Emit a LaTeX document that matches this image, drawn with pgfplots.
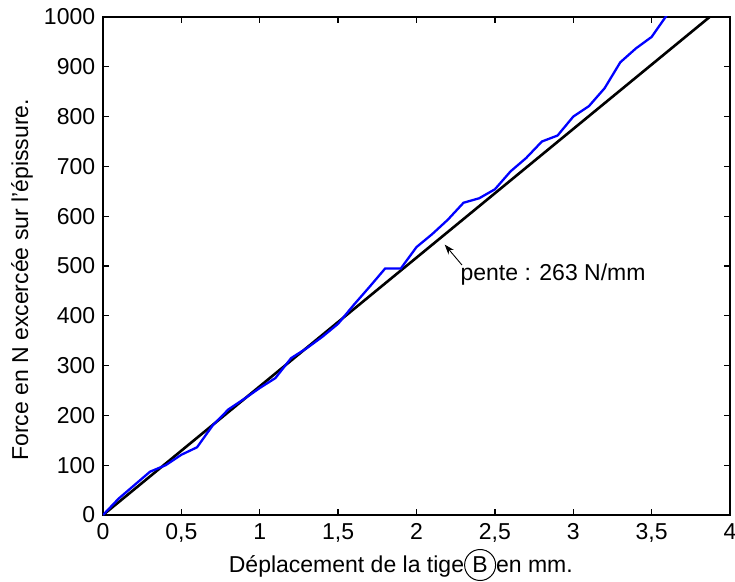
\documentclass[border=0pt]{standalone}
\usepackage{fontspec}
\setmainfont{Liberation Sans}
\usepackage{pgfplots}
\pgfplotsset{compat=1.18}
\usetikzlibrary{arrows.meta}
\begin{document}
\fontsize{23bp}{27bp}\selectfont
\begin{tikzpicture}[font=\fontsize{23bp}{27bp}\selectfont]
\begin{axis}[
  scale only axis, width=627bp, height=498bp,
  xmin=0, xmax=4, ymin=0, ymax=1000,
  xtick={0,0.5,1,1.5,2,2.5,3,3.5,4},
  xticklabels={0,{0,5},1,{1,5},2,{2,5},3,{3,5},4},
  ytick={0,100,...,1000},
  yticklabels={0,100,200,300,400,500,600,700,800,900,1000},
  /pgf/number format/assume math mode=true,
  tick align=inside, tick pos=both, major tick length=6bp,
  axis line style={line width=1.3bp}, every tick/.style={line width=1.3bp, black},
  xticklabel style={yshift=-1bp},
  yticklabel style={xshift=0bp},
  every axis y label/.style={at={(axis description cs:-0.1292,0.472)}, rotate=90, anchor=center},
  every axis x label/.style={at={(axis description cs:0.475,-0.1004)}, anchor=center},
  ylabel={Force en N excercée sur l'épissure.},
  xlabel={Déplacement de la tige\tikz[baseline=(b.base)]\node[draw,circle,line width=1bp,inner sep=0pt,minimum size=31bp](b){B};en mm.},
  clip=true,
]
\addplot[black, line width=2.6bp] coordinates {(0,0) (3.87,1000)};
\addplot[blue, line width=2.3bp] coordinates {
(0,0) (0.1,33) (0.2,60) (0.3,87) (0.4,100) (0.5,121) (0.6,136) (0.7,180) (0.8,212) (0.9,233)
(1.0,255) (1.1,275) (1.2,315) (1.3,335) (1.4,358) (1.5,384) (1.6,422) (1.7,458) (1.8,495) (1.9,495)
(2.0,538) (2.1,564) (2.2,593) (2.3,627) (2.4,636) (2.5,654) (2.6,690) (2.7,717) (2.8,750) (2.9,762)
(3.0,800) (3.1,821) (3.2,857) (3.3,909) (3.4,937) (3.5,960) (3.6,1005)};
\draw[-{Stealth[length=10bp,width=7bp]}, line width=0.9bp] (axis cs:2.29,502) -- (axis cs:2.18,543);
\node[anchor=west, inner sep=0pt] at (axis cs:2.28,483) {pente : 263 N/mm};
\coordinate (A) at (rel axis cs:0,0);
\coordinate (B) at (rel axis cs:1,1);
\end{axis}
\pgfresetboundingbox
\useasboundingbox ([shift={(-103bp,-66bp)}]A) rectangle ([shift={(5bp,17bp)}]B);
\end{tikzpicture}
\end{document}
